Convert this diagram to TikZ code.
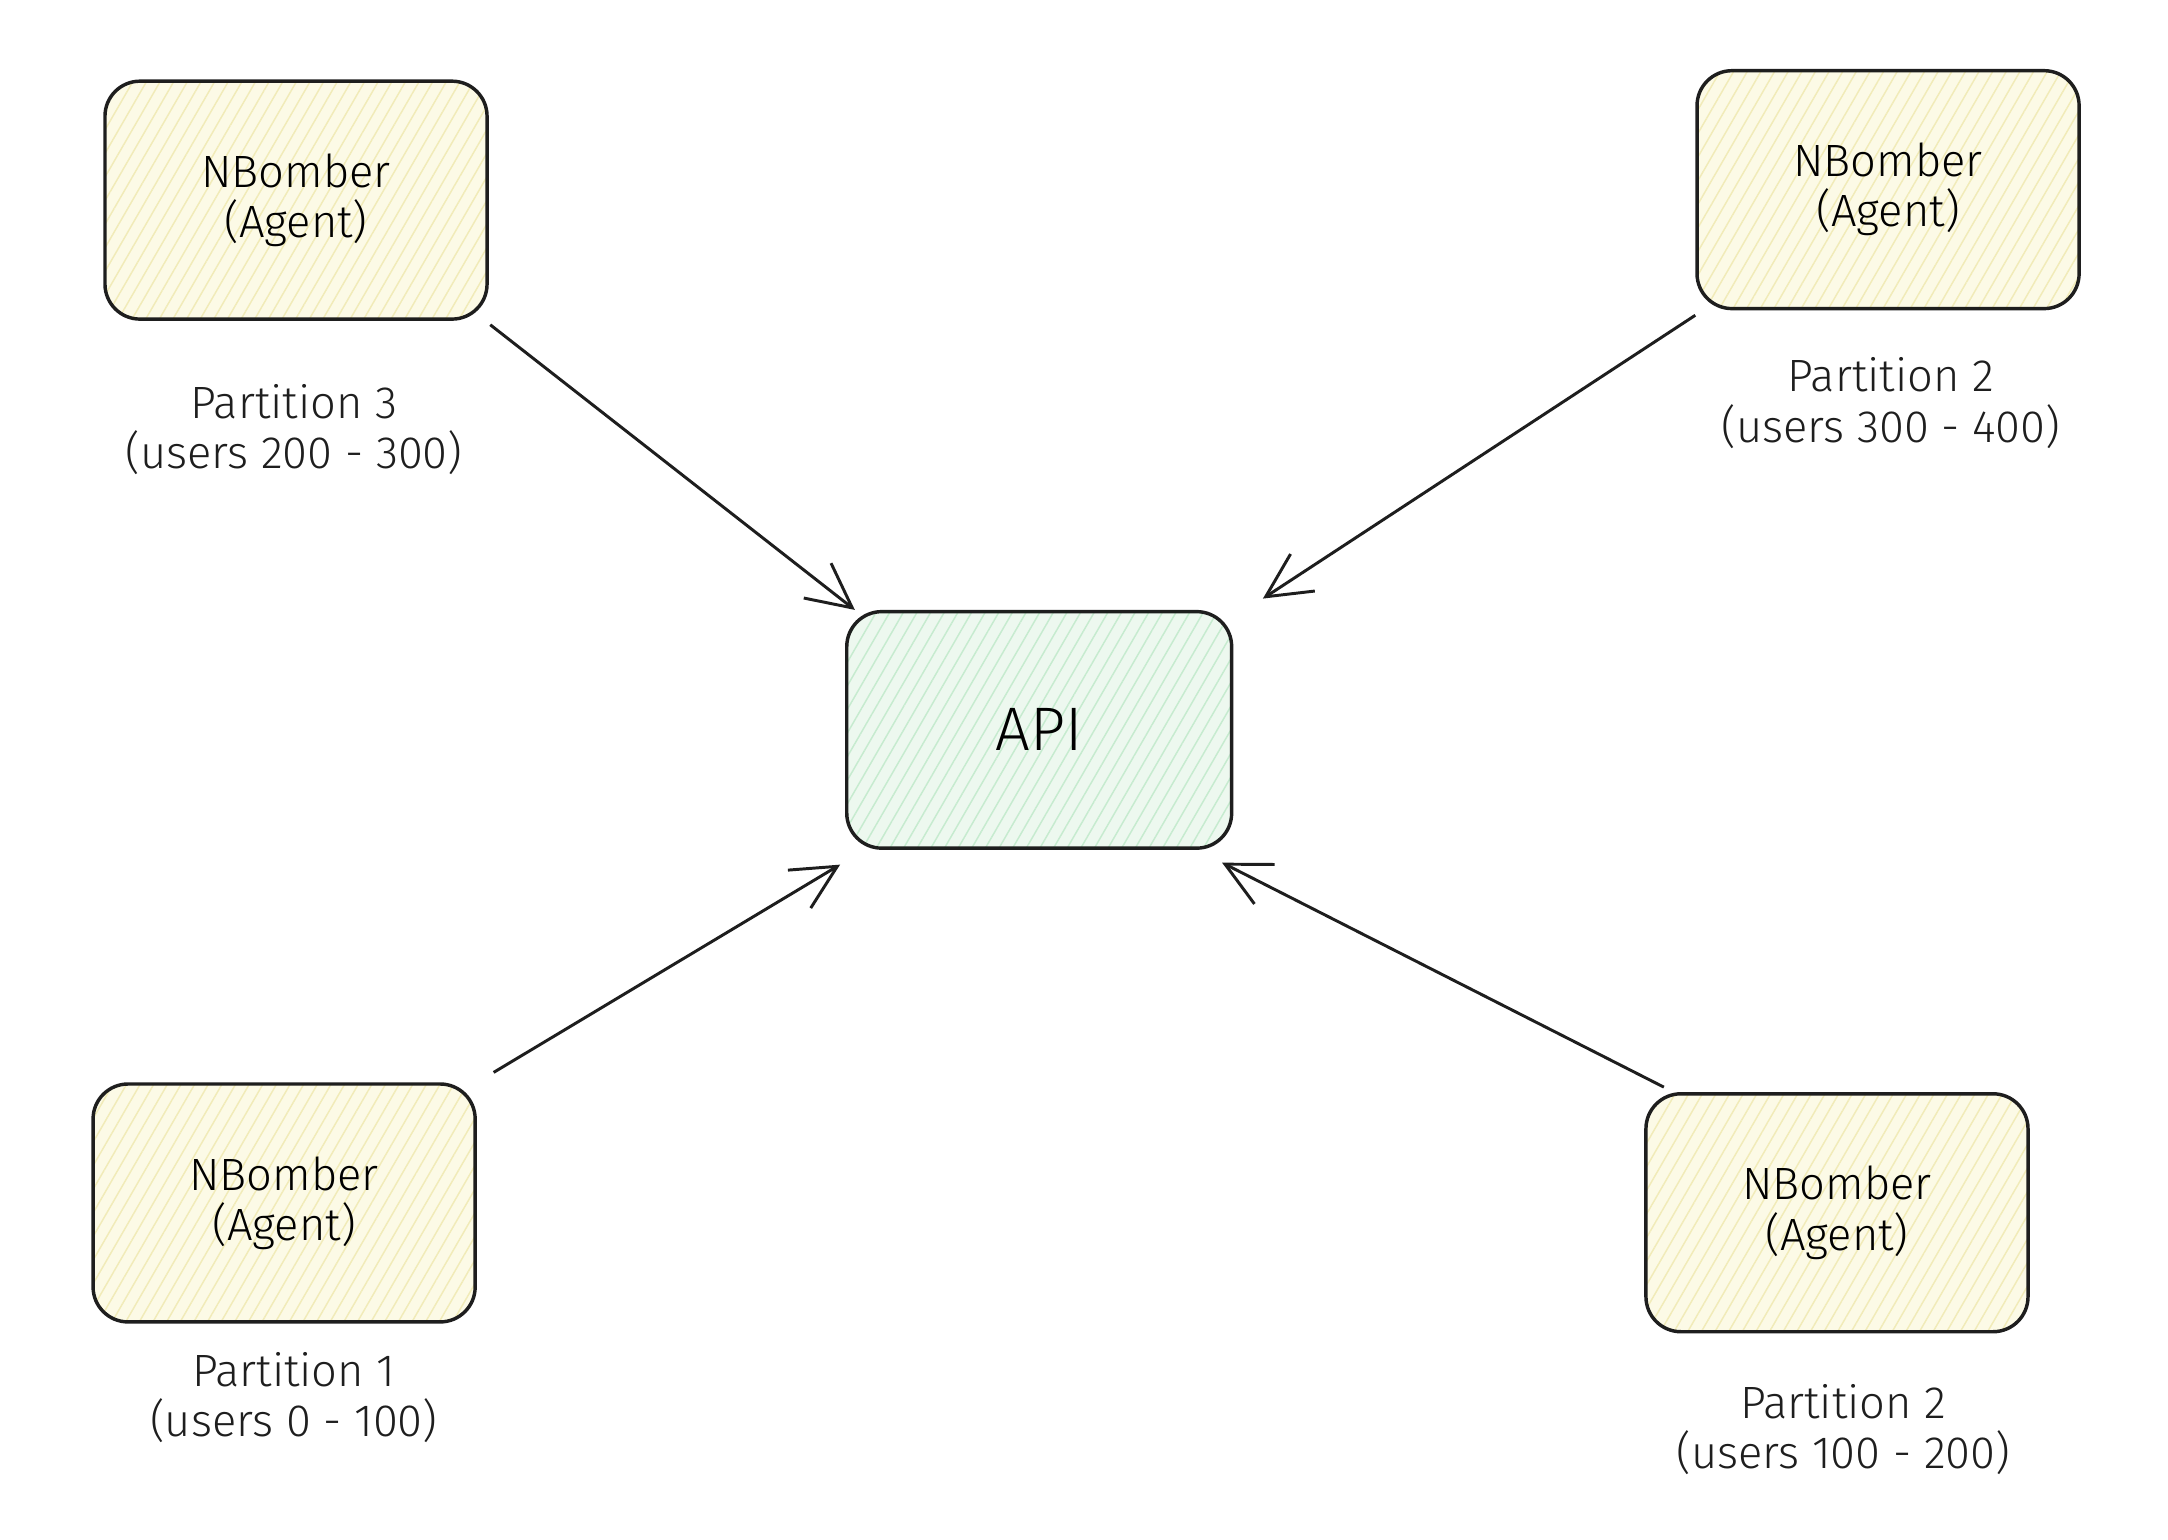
\documentclass[tikz,border=0pt]{standalone}
\usepackage{fontspec}
\setmainfont{Fira Sans Light}
\usetikzlibrary{arrows.meta,patterns.meta}
\definecolor{ink}{HTML}{1E1E1E}
\definecolor{agentfill}{HTML}{FCFAE6}
\definecolor{agenthatch}{HTML}{F1EBB8}
\definecolor{apifill}{HTML}{EDF8EF}
\definecolor{apihatch}{HTML}{C6EBCF}
\newcommand{\boxfont}{\fontsize{9.2}{10.2}\selectfont}
\tikzset{
  agent/.style={rectangle, rounded corners=0.25cm, draw=ink, line width=0.7pt,
    minimum width=2.73cm, minimum height=1.70cm, align=center, font=\boxfont,
    preaction={fill=agentfill},
    pattern={Lines[angle=60,distance=2.4pt,line width=0.3pt]}, pattern color=agenthatch},
  api/.style={agent, minimum width=2.75cm, minimum height=1.69cm,
    font=\fontsize{12.5}{15}\selectfont,
    preaction={fill=apifill}, pattern color=apihatch},
  part/.style={align=center, font=\boxfont, text=ink},
  conn/.style={-{Straight Barb[length=9pt,width=9pt]}, color=ink, line width=0.6pt}
}
\begin{document}
\begin{tikzpicture}
\useasboundingbox (0,0) rectangle (15.49,-11.0);

          \node [agent] at (2.115,-1.43) (agent3) {NBomber\\(Agent)};
             \node [agent] at (13.49,-1.355) (agent4) {NBomber\\(Agent)};
              \node [agent] at (2.03,-8.595) (agent1) {NBomber\\(Agent)};
               \node [agent] at (13.125,-8.665) (agent2) {NBomber\\(Agent)};
%
             \node [api] at (7.425,-5.215) (api) {API};
%
                \node [part] at (2.10,-3.07) (part3) {Partition 3\\(users 200 - 300)};
                 \node [part] at (13.51,-2.88) (part4) {Partition 2\\(users 300 - 400)};
                  \node [part] at (2.10,-9.985) (part1) {Partition 1\\(users 0 - 100)};
                   \node [part] at (13.17,-10.215) (part2) {Partition 2\\(users 100 - 200)};
%
%
\path[conn] ([xshift=0.5pt,yshift=-1pt]agent3.south east) edge ([xshift=2pt]api.north west);
\path[conn] ([yshift=-1pt]agent4.south west) edge ([xshift=6pt,yshift=2.3pt]api.north east);
\path[conn] ([xshift=3.4pt,yshift=2pt]agent1.north east) edge ([xshift=-1pt,yshift=-3pt]api.south west);
\path[conn] ([xshift=4pt,yshift=1pt]agent2.north west) edge ([xshift=-2.3pt,yshift=-2.6pt]api.south east);

\end{tikzpicture}
\end{document}
